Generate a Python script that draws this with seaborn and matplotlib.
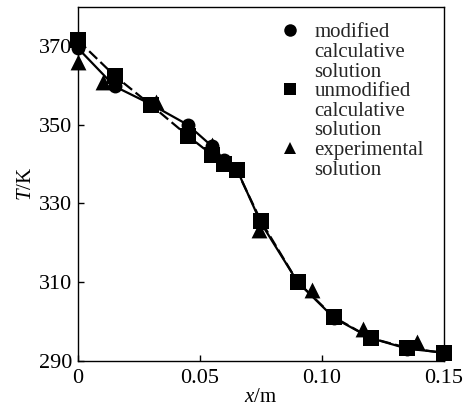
import numpy as np
import pandas as pd
import matplotlib
matplotlib.use("Agg")
import matplotlib.pyplot as plt
from matplotlib.lines import Line2D
import seaborn as sns

# Temperature profiles along the rod
x_calc = [0.0, 0.015, 0.03, 0.045, 0.055, 0.06, 0.065, 0.075, 0.09, 0.105, 0.12, 0.135, 0.15]
T_modified = [369.5, 359.8, 355.2, 350.0, 344.5, 341.0, 338.8, 325.0, 310.0, 300.8, 295.7, 293.0, 292.0]
T_unmodified = [371.5, 362.5, 355.0, 347.2, 342.3, 340.0, 338.5, 325.5, 310.0, 301.0, 295.7, 293.2, 291.9]

x_exp = [0.0, 0.0103, 0.032, 0.055, 0.074, 0.096, 0.117, 0.139]
T_exp = [366.0, 361.0, 355.8, 344.8, 323.2, 308.0, 298.0, 294.7]

legend_rows = ["modified", "calculative", "solution",
               "unmodified", "calculative", "solution",
               "experimental", "solution"]
legend_markers = ["o", None, None, "s", None, None, "^", None]

x_ticks = [0, 0.05, 0.10, 0.15]
x_ticklabels = ["0", "0.05", "0.10", "0.15"]
y_ticks = [290, 310, 330, 350, 370]

sns.set_theme(style="ticks")
plt.rcParams["font.family"] = ["Liberation Serif", "DejaVu Serif"]
plt.rcParams["mathtext.fontset"] = "custom"
plt.rcParams["mathtext.rm"] = "Liberation Serif"
plt.rcParams["mathtext.it"] = "Liberation Serif:italic"

fig = plt.figure(figsize=(4.72, 4.11), dpi=100)
ax = fig.add_axes([78 / 472, 1 - 360.5 / 411, 366 / 472, 353.5 / 411])

df_calc = pd.DataFrame({"x": x_calc, "mod": T_modified, "unmod": T_unmodified})
df_exp = pd.DataFrame({"x": x_exp, "T": T_exp})

sns.lineplot(data=df_calc, x="x", y="mod", ax=ax, color="black", lw=1.6,
             marker="o", markersize=10, markeredgewidth=0, linestyle="-",
             clip_on=False)
sns.lineplot(data=df_calc, x="x", y="unmod", ax=ax, color="black", lw=1.6,
             marker="s", markersize=11.5, markeredgewidth=0, dashes=(5, 2),
             clip_on=False)
sns.scatterplot(data=df_exp, x="x", y="T", ax=ax, color="black",
                marker="^", s=130, linewidth=0, zorder=3, clip_on=False)

ax.set_xlim(0, 0.15)
ax.set_ylim(290, 380)
ax.set_xticks(x_ticks)
ax.set_xticklabels(x_ticklabels)
ax.set_yticks(y_ticks)
ax.tick_params(direction="in", length=4, width=1, labelsize=16,
               top=False, right=False, color="black", labelcolor="black")
ax.tick_params(axis="x", pad=6)
ax.tick_params(axis="y", pad=4)
for sp in ax.spines.values():
    sp.set_visible(True)
    sp.set_color("black")
    sp.set_linewidth(1.0)

ax.set_xlabel("$x$/m", fontsize=15, labelpad=0, color="black")
ax.set_ylabel("$T$/K", fontsize=15, labelpad=2, color="black")

handles = []
for m in legend_markers:
    if m is None:
        handles.append(Line2D([], [], linestyle="none", marker=None))
    else:
        handles.append(Line2D([], [], linestyle="none", marker=m, color="black",
                              markersize=9, markeredgewidth=0))
ax.legend(handles, legend_rows, loc="upper left", bbox_to_anchor=(0.552, 0.955),
          frameon=False, fontsize=15, borderpad=0, borderaxespad=0,
          handlelength=1.0, handletextpad=0.65, labelspacing=0.0)

fig.savefig("out.png", dpi=100, facecolor="white")
